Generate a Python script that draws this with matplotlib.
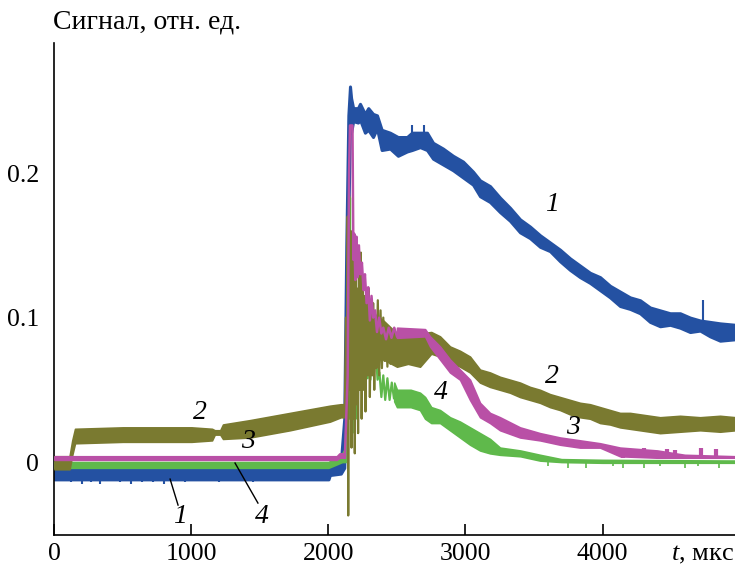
import numpy as np
import matplotlib
matplotlib.use('Agg')
import matplotlib.pyplot as plt

plt.rcParams['font.family'] = ['Liberation Serif', 'DejaVu Serif']
plt.rcParams['mathtext.fontset'] = 'custom'
plt.rcParams['mathtext.it'] = 'Liberation Serif:italic'
plt.rcParams['mathtext.rm'] = 'Liberation Serif'

blue = '#2451a2'
olive = '#7a7a30'
pink = '#b950a6'
green = '#5fb94b'

# Curve 1 (blue): noisy band, read as lower / upper edge
t1 = [0, 2000, 2010, 2090, 2115, 2130, 2145, 2157, 2165, 2180, 2215, 2230, 2266,
      2290, 2325, 2354, 2388, 2449, 2507, 2573, 2609, 2668, 2719, 2763, 2836, 2909,
      2982, 3055, 3106, 3179, 3252, 3325, 3398, 3471, 3544, 3617, 3690, 3763, 3836,
      3909, 3982, 4055, 4128, 4201, 4274, 4347, 4420, 4493, 4566, 4639, 4712, 4785,
      4858, 4970]
lo1 = [-0.012, -0.012, -0.009, -0.008, -0.004, 0.05, 0.17, 0.232, 0.228, 0.236,
       0.235, 0.237, 0.228, 0.230, 0.225, 0.231, 0.216, 0.217, 0.212, 0.215, 0.216,
       0.218, 0.216, 0.210, 0.206, 0.202, 0.197, 0.192, 0.184, 0.180, 0.173, 0.167,
       0.159, 0.155, 0.149, 0.146, 0.139, 0.133, 0.128, 0.124, 0.119, 0.114, 0.108,
       0.106, 0.103, 0.097, 0.094, 0.095, 0.093, 0.090, 0.091, 0.087, 0.084, 0.085]
hi1 = [-0.004, -0.004, -0.001, 0.000, 0.030, 0.15, 0.24, 0.260, 0.252, 0.245,
       0.245, 0.248, 0.241, 0.245, 0.241, 0.240, 0.230, 0.228, 0.225, 0.225, 0.228,
       0.228, 0.228, 0.221, 0.217, 0.212, 0.208, 0.201, 0.195, 0.191, 0.183, 0.176,
       0.168, 0.163, 0.157, 0.152, 0.147, 0.141, 0.136, 0.131, 0.128, 0.122, 0.118,
       0.114, 0.112, 0.107, 0.105, 0.103, 0.103, 0.100, 0.098, 0.097, 0.096, 0.095]
# short spikes sticking out of the blue band
spk1_t = [120, 200, 265, 330, 480, 560, 640, 720, 800, 950, 1200, 1450, 1700, 1900,
          2609, 2700, 4734]
spk1_lo = [-0.014, -0.015, -0.014, -0.015, -0.014, -0.015, -0.014, -0.014, -0.015,
           -0.014, -0.014, -0.014, -0.013, -0.013, 0.220, 0.220, 0.098]
spk1_hi = [-0.010, -0.010, -0.010, -0.010, -0.010, -0.010, -0.010, -0.010, -0.010,
           -0.010, -0.010, -0.010, -0.010, -0.010, 0.233, 0.233, 0.112]

# Curve 2 (olive): band before the flash, burst, band after
t2a = [0, 110, 130, 150, 500, 1000, 1150, 1170, 1210, 1230, 1427, 1719, 2011, 2090, 2120]
lo2a = [-0.005, -0.005, 0.005, 0.013, 0.014, 0.014, 0.015, 0.019, 0.019, 0.016,
        0.017, 0.022, 0.028, 0.031, 0.031]
hi2a = [0.004, 0.004, 0.015, 0.023, 0.024, 0.024, 0.023, 0.022, 0.022, 0.026,
        0.029, 0.034, 0.039, 0.040, 0.040]
z2t = [2120, 2128, 2134, 2140, 2144, 2150, 2156, 2162, 2168, 2174, 2180, 2186, 2192,
       2198, 2204, 2210, 2216, 2222, 2228, 2236, 2242, 2250, 2256, 2264, 2270, 2278,
       2286, 2294, 2302, 2310, 2318, 2326, 2334, 2342, 2350, 2360, 2370, 2380, 2390,
       2400, 2410, 2420, 2430, 2440, 2452, 2464, 2476, 2488, 2500]
z2y = [0.040, 0.100, 0.020, 0.170, -0.037, 0.185, 0.050, 0.160, 0.010, 0.150, 0.030,
       0.140, 0.006, 0.130, 0.040, 0.120, 0.020, 0.135, 0.050, 0.145, 0.030, 0.120,
       0.050, 0.115, 0.035, 0.110, 0.060, 0.120, 0.045, 0.105, 0.060, 0.110, 0.050,
       0.100, 0.065, 0.112, 0.060, 0.105, 0.065, 0.100, 0.070, 0.095, 0.066, 0.090,
       0.068, 0.088, 0.070, 0.090, 0.070]
t2b = [2300, 2400, 2500, 2580, 2668, 2750, 2814, 2887, 2960, 3033, 3106, 3179, 3252,
       3325, 3398, 3471, 3544, 3617, 3690, 3763, 3836, 3909, 3982, 4055, 4128, 4201,
       4274, 4347, 4420, 4566, 4712, 4858, 4970]
lo2b = [0.072, 0.071, 0.066, 0.068, 0.066, 0.075, 0.073, 0.069, 0.066, 0.062, 0.055,
        0.052, 0.050, 0.048, 0.045, 0.043, 0.041, 0.038, 0.036, 0.033, 0.031, 0.030,
        0.027, 0.026, 0.024, 0.023, 0.022, 0.021, 0.020, 0.021, 0.022, 0.021, 0.022]
hi2b = [0.105, 0.098, 0.089, 0.087, 0.089, 0.090, 0.087, 0.080, 0.077, 0.073, 0.064,
        0.062, 0.059, 0.057, 0.055, 0.052, 0.050, 0.047, 0.045, 0.043, 0.041, 0.040,
        0.038, 0.036, 0.034, 0.034, 0.033, 0.032, 0.031, 0.032, 0.031, 0.032, 0.031]

# Curve 3 (pink)
t3a = [0, 2060, 2080, 2120]
lo3a = [0.0015, 0.0015, 0.003, 0.003]
hi3a = [0.004, 0.004, 0.006, 0.006]
z3t = [2120, 2140, 2150, 2157, 2175, 2182, 2188, 2196, 2204, 2212, 2222, 2232, 2244,
       2256, 2266, 2278, 2290, 2302, 2314, 2326, 2340, 2354, 2370, 2386, 2400, 2420,
       2440, 2460, 2480, 2500]
z3y = [0.005, 0.060, 0.200, 0.233, 0.233, 0.140, 0.158, 0.126, 0.156, 0.128, 0.150,
       0.130, 0.138, 0.119, 0.130, 0.110, 0.121, 0.098, 0.115, 0.100, 0.105, 0.090,
       0.100, 0.089, 0.093, 0.085, 0.093, 0.086, 0.093, 0.087]
t3b = [2500, 2705, 2741, 2814, 2887, 2960, 3033, 3106, 3179, 3252, 3398, 3544, 3690,
       3836, 3982, 4128, 4400, 4600, 4970]
lo3b = [0.086, 0.087, 0.080, 0.071, 0.062, 0.057, 0.043, 0.031, 0.027, 0.022, 0.017,
        0.015, 0.012, 0.010, 0.010, 0.004, 0.003, 0.003, 0.003]
hi3b = [0.093, 0.092, 0.087, 0.080, 0.071, 0.064, 0.057, 0.041, 0.034, 0.031, 0.024,
        0.020, 0.017, 0.015, 0.013, 0.010, 0.008, 0.005, 0.004]
# blocks of pink sitting above its tail
spk3_t = [4150, 4300, 4470, 4530, 4720, 4830]
spk3_hi = [0.010, 0.010, 0.009, 0.008, 0.010, 0.009]

# Curve 4 (green)
t4a = [0, 2000, 2050, 2100, 2125]
lo4a = [-0.004, -0.004, -0.002, 0.000, 0.000]
hi4a = [0.000, 0.000, 0.003, 0.006, 0.010]
z4t = [2125, 2135, 2140, 2146, 2152, 2157, 2162, 2168, 2174, 2180, 2186, 2192, 2200,
       2208, 2216, 2224, 2232, 2240, 2248, 2256, 2266, 2276, 2286, 2296, 2306, 2316,
       2330, 2344, 2358, 2372, 2386, 2400, 2414, 2430, 2446, 2462, 2478, 2490]
z4y = [0.005, 0.060, 0.010, 0.120, 0.030, 0.183, 0.040, 0.112, 0.020, 0.100, 0.040,
       0.090, 0.030, 0.100, 0.050, 0.110, 0.055, 0.091, 0.057, 0.085, 0.060, 0.090,
       0.058, 0.078, 0.057, 0.075, 0.060, 0.078, 0.057, 0.062, 0.045, 0.060, 0.043,
       0.058, 0.043, 0.055, 0.044, 0.050]
t4b = [2480, 2500, 2600, 2668, 2705, 2750, 2814, 2887, 2960, 3033, 3106, 3179, 3252,
       3400, 3544, 3700, 4000, 4970]
lo4b = [0.042, 0.038, 0.038, 0.036, 0.030, 0.027, 0.027, 0.022, 0.017, 0.012, 0.008,
        0.006, 0.005, 0.004, 0.001, 0.000, -0.0005, -0.0005]
hi4b = [0.055, 0.050, 0.050, 0.048, 0.045, 0.038, 0.036, 0.031, 0.028, 0.024, 0.020,
        0.016, 0.010, 0.008, 0.005, 0.002, 0.0015, 0.001]
spk4_t = [3600, 3750, 3880, 4080, 4150, 4300, 4420, 4600, 4700, 4850]
spk4_lo = [-0.003, -0.004, -0.004, -0.003, -0.004, -0.004, -0.003, -0.004, -0.003, -0.004]

x_ticks = [0, 1000, 2000, 3000, 4000]
y_ticks = [0, 0.1, 0.2]
y_ticklabels = ['0', '0.1', '0.2']


def band(ax, t, lo, hi, color, z, edge=1.2):
    """Draws one noisy stretch of a trace as a filled band."""
    ax.fill_between(t, lo, hi, color=color, lw=edge, edgecolor=color, zorder=z)


if __name__ == '__main__':
    fig = plt.figure(figsize=(7.35, 5.66), dpi=100)
    ax = fig.add_axes([0.0741, 0.0548, 0.9259, 0.869])

    # 1 - blue
    band(ax, t1, lo1, hi1, blue, 2, edge=2.2)
    ax.vlines(spk1_t, spk1_lo, spk1_hi, color=blue, lw=1.5, zorder=2)

    # 4 - green
    band(ax, t4a, lo4a, hi4a, green, 3)
    ax.plot(z4t, z4y, color=green, lw=1.6, zorder=3)
    band(ax, t4b, lo4b, hi4b, green, 3)
    ax.vlines(spk4_t, spk4_lo, [0.0] * len(spk4_t), color=green, lw=1.2, zorder=3)

    # 2 - olive
    band(ax, t2a, lo2a, hi2a, olive, 4)
    ax.plot(z2t, z2y, color=olive, lw=1.6, zorder=4)
    band(ax, t2b, lo2b, hi2b, olive, 4)

    # 3 - pink
    band(ax, t3a, lo3a, hi3a, pink, 5)
    ax.plot(z3t, z3y, color=pink, lw=1.8, zorder=5)
    band(ax, t3b, lo3b, hi3b, pink, 5)
    ax.vlines(spk3_t, [0.003] * len(spk3_t), spk3_hi, color=pink, lw=3, zorder=5)

    ax.set_xlim(0, 4967)
    ax.set_ylim(-0.0505, 0.29)
    ax.set_xticks(x_ticks)
    ax.set_yticks(y_ticks)
    ax.set_yticklabels(y_ticklabels)
    ax.tick_params(axis='x', direction='in', length=8, width=1.2, pad=6, labelsize=18.5)
    ax.tick_params(axis='y', length=0, pad=11, labelsize=18.5)
    for side in ['top', 'right']:
        ax.spines[side].set_visible(False)
    for side in ['left', 'bottom']:
        ax.spines[side].set_linewidth(1.2)

    # curve numbers
    num_style = dict(fontsize=20, style='italic', ha='center', va='center', zorder=6)
    ax.text(3631, 0.178, '1', **num_style)
    ax.text(3631, 0.059, '2', **num_style)
    ax.text(1062, 0.034, '2', **num_style)
    ax.text(3785, 0.024, '3', **num_style)
    ax.text(1412, 0.014, '3', **num_style)
    ax.text(2821, 0.048, '4', **num_style)
    ax.text(916, -0.038, '1', **num_style)
    ax.text(1515, -0.038, '4', **num_style)
    ax.plot([844, 902], [-0.0118, -0.0298], color='black', lw=1, zorder=6)
    ax.plot([1318, 1485], [-0.0007, -0.0284], color='black', lw=1, zorder=6)

    fig.text(0.072, 0.961, 'Сигнал, отн. ед.', fontsize=20, ha='left', va='center')
    fig.text(0.999, 0.019, '$t$, мкс', fontsize=19, ha='right', va='center')

    plt.savefig('out.png', dpi=100)
